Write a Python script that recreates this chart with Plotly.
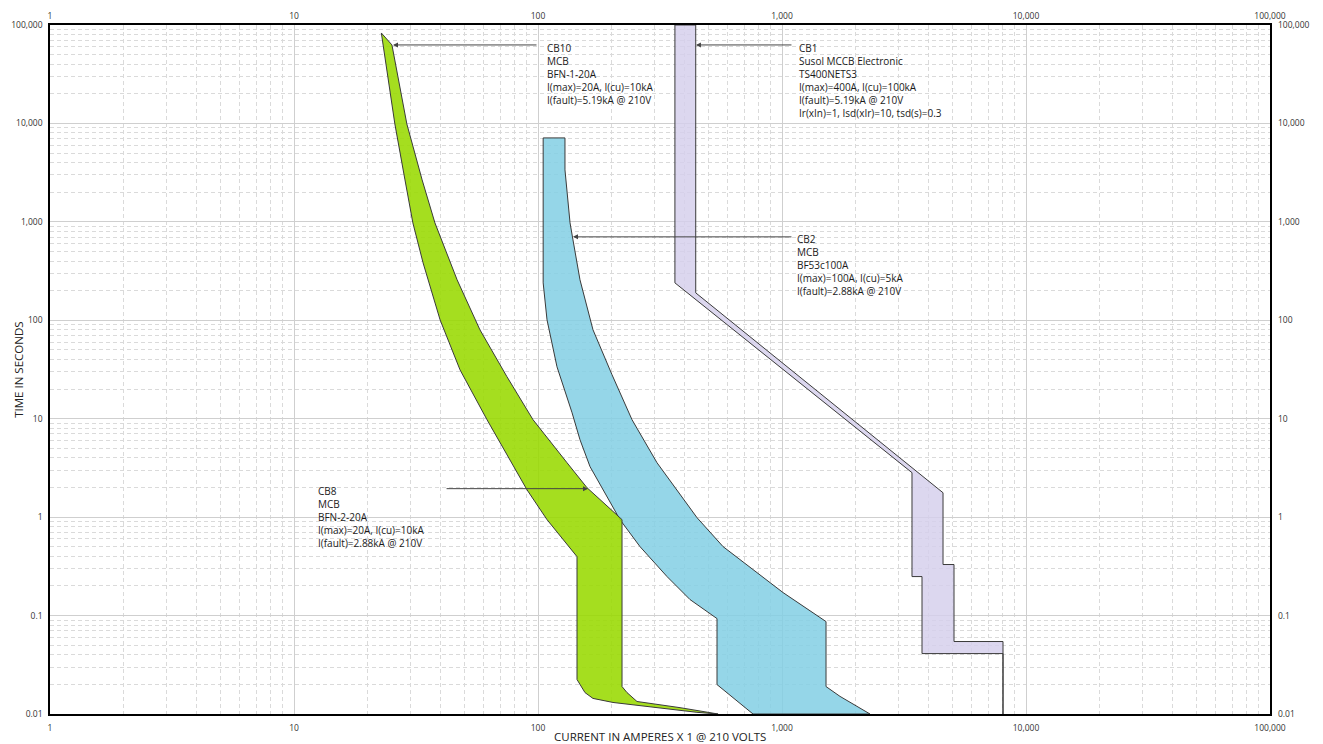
import math
import plotly.graph_objects as go

# ---------------- data ----------------
# CB8 / CB10  (BFN 20A MCBs) - green band
green_min_I = [22.8, 25.9, 28.5, 30.7, 33.8, 39.7, 47.9, 61.8, 90.1, 108.9, 144.5, 144.5, 155.8, 168, 203, 448, 547]
green_min_t = [83000, 9890, 2670, 977, 384, 101, 31.4, 9.77, 1.90, 0.943, 0.397, 0.0224, 0.0165, 0.0144, 0.0131, 0.0104, 0.01]
green_max_I = [22.8, 25.2, 29.0, 33.5, 37.8, 46.6, 57.8, 74.6, 95.4, 131.5, 158.8, 179.5, 221, 221, 231.6, 254.5, 382, 547]
green_max_t = [83000, 62700, 9890, 2670, 977, 258, 80.1, 26.7, 9.77, 3.57, 1.99, 1.51, 0.943, 0.019, 0.0165, 0.0134, 0.0116, 0.01]

# CB2 (BF53c100A MCB) - blue band
blue_min_I = [105, 105, 108.9, 119.6, 137.9, 148.6, 163.4, 191.8, 216.8, 261.8, 337.9, 419.8, 541.5, 541.5, 760.6]
blue_min_t = [7125, 240, 101, 33.7, 11.5, 6.12, 3.26, 1.61, 0.943, 0.502, 0.249, 0.1454, 0.0932, 0.0199, 0.01]
blue_max_I = [105, 129, 129, 135.3, 139.1, 148.6, 168, 201.1, 242.8, 307.4, 371.3, 448.4, 573.3, 760.6, 1010, 1515, 1515, 1729, 2030, 2295]
blue_max_t = [7125, 7125, 3372, 977, 656, 258, 80.1, 27.97, 9.77, 3.57, 1.90, 0.988, 0.502, 0.293, 0.1712, 0.0869, 0.019, 0.0151, 0.0119, 0.01]

# CB1 (Susol MCCB Electronic TS400NETS3) - lavender band
cb1_min_I = [364, 364, 3410, 3410, 3748, 3748, 8050]
cb1_min_t = [100000, 240, 2.83, 0.249, 0.249, 0.0411, 0.0411]
cb1_max_I = [443, 443, 4570, 4570, 5069, 5069, 8050, 8050]
cb1_max_t = [100000, 190, 1.77, 0.33, 0.33, 0.0545, 0.0545, 0.01]

x_tickvals = [1, 10, 100, 1000, 10000, 100000]
x_ticktext = ["1", "10", "100", "1,000", "10,000", "100,000"]
y_tickvals = [0.01, 0.1, 1, 10, 100, 1000, 10000, 100000]
y_ticktext = ["0.01", "0.1", "1", "10", "100", "1,000", "10,000", "100,000"]

labels = {
    "CB10": ["CB10", "MCB", "BFN-1-20A", "I(max)=20A, I(cu)=10kA", "I(fault)=5.19kA @ 210V"],
    "CB1": ["CB1", "Susol MCCB Electronic", "TS400NETS3", "I(max)=400A, I(cu)=100kA",
            "I(fault)=5.19kA @ 210V", "Ir(xIn)=1, Isd(xIr)=10, tsd(s)=0.3"],
    "CB2": ["CB2", "MCB", "BF53c100A", "I(max)=100A, I(cu)=5kA", "I(fault)=2.88kA @ 210V"],
    "CB8": ["CB8", "MCB", "BFN-2-20A", "I(max)=20A, I(cu)=10kA", "I(fault)=2.88kA @ 210V"],
}

FONT = "Open Sans"


def band(min_I, min_t, max_I, max_t):
    xs = list(min_I) + list(reversed(max_I))
    ys = list(min_t) + list(reversed(max_t))
    return xs + [xs[0]], ys + [ys[0]]


fig = go.Figure()

for (mi, mt, xi, xt, fc) in [
    (cb1_min_I, cb1_min_t, cb1_max_I, cb1_max_t, "rgba(212,206,236,0.82)"),
    (blue_min_I, blue_min_t, blue_max_I, blue_max_t, "rgba(130,207,228,0.85)"),
    (green_min_I, green_min_t, green_max_I, green_max_t, "rgba(152,218,0,0.88)"),
]:
    bx, by = band(mi, mt, xi, xt)
    fig.add_trace(go.Scatter(x=bx, y=by, mode="lines", fill="toself", fillcolor=fc,
                             line=dict(color="#3a3a3a", width=1), hoverinfo="skip",
                             showlegend=False))

# invisible trace so the mirrored (top / right) tick axes are drawn
fig.add_trace(go.Scatter(x=x_tickvals[:1], y=y_tickvals[:1], xaxis="x2", yaxis="y2",
                         mode="markers", marker=dict(opacity=0), hoverinfo="skip",
                         showlegend=False))

grid_major = "#cfcfcf"
grid_minor = "#dadada"
tickfont = dict(family=FONT, size=8.5, color="#333333")

common = dict(type="log", showgrid=True, gridcolor=grid_major, gridwidth=1,
              minor=dict(showgrid=True, gridcolor=grid_minor, griddash="4px,3px",
                         gridwidth=1, dtick="D1"),
              showline=True, mirror=True, linecolor="black", linewidth=1.5,
              ticks="", zeroline=False, tickfont=tickfont, automargin=False)

fig.update_layout(
    width=1315, height=736,
    margin=dict(l=42, r=53, t=17, b=29.5, autoexpand=False),
    plot_bgcolor="white", paper_bgcolor="white",
    showlegend=False,
    font=dict(family=FONT, size=9, color="#333333"),
    xaxis=dict(range=[0, 5], tickvals=x_tickvals, ticktext=x_ticktext,
               ticklabelstandoff=5, **common),
    yaxis=dict(range=[-2, 5], tickvals=y_tickvals, ticktext=y_ticktext,
               ticklabelstandoff=4, **common),
    xaxis2=dict(type="log", range=[0, 5], overlaying="x", side="top", anchor="y2",
                tickvals=x_tickvals, ticktext=x_ticktext, showgrid=False, ticks="",
                showline=False, zeroline=False, tickfont=tickfont, automargin=False,
                ticklabelstandoff=3),
    yaxis2=dict(type="log", range=[-2, 5], overlaying="y", side="right", anchor="x2",
                tickvals=y_tickvals, ticktext=y_ticktext, showgrid=False, ticks="",
                showline=False, zeroline=False, tickfont=tickfont, automargin=False,
                ticklabelstandoff=7),
)

L = math.log10
ann_font = dict(family=FONT, size=10, color="#1a1a1a")

# (label, text-left current, text-top time, arrow head (I,t), arrow tail current)
callouts = [
    ("CB10", 106.8, 72000, (25.45, 62700), 100),
    ("CB1", 1152, 72000, (444, 62700), 1109),
    ("CB2", 1130, 830, (139.1, 704), 1109),
    ("CB8", 12.31, 2.25, (160.3, 1.947), 41.6),
]
for name, tx, ty, (hx, hy), tail in callouts:
    fig.add_annotation(x=L(tx), y=L(ty), xref="x", yref="y", text="<br>".join(labels[name]),
                       showarrow=False, xanchor="left", yanchor="top", align="left",
                       font=ann_font)
    fig.add_annotation(x=L(hx), y=L(hy), ax=L(tail), ay=L(hy), xref="x", yref="y",
                       axref="x", ayref="y", text="", showarrow=True, arrowhead=2,
                       arrowsize=1, arrowwidth=1, arrowcolor="#444444")

fig.add_annotation(text="CURRENT IN AMPERES X 1 @ 210 VOLTS", xref="paper", yref="paper",
                   x=0.5, y=-0.032, xanchor="center", yanchor="middle", showarrow=False,
                   font=dict(family=FONT, size=11.5, color="#222222"))
fig.add_annotation(text="TIME IN SECONDS", xref="paper", yref="paper", x=-0.026, y=0.5,
                   xanchor="center", yanchor="middle", textangle=-90, showarrow=False,
                   font=dict(family=FONT, size=11.5, color="#222222"))

fig.write_html("out.html")
